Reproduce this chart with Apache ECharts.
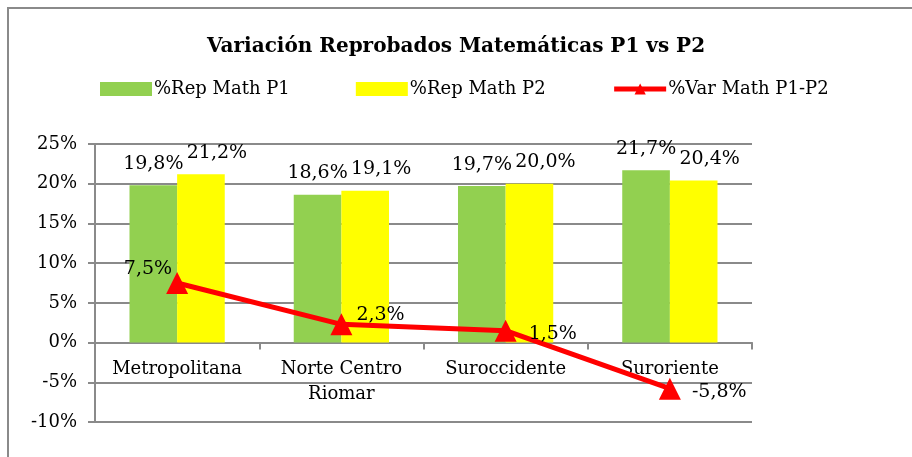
<!DOCTYPE html>
<html><head><meta charset="utf-8">
<script src="https://cdn.jsdelivr.net/npm/echarts@6/dist/echarts.min.js"></script>
<style>html,body{margin:0;padding:0;background:#fff}#c{width:912px;height:457px}</style>
</head><body><div id="c"></div>
<script>
const categories = ['Metropolitana', 'Norte Centro\nRiomar', 'Suroccidente', 'Suroriente'];
const repP1 = [19.8, 18.6, 19.7, 21.7];
const repP2 = [21.2, 19.1, 20.0, 20.4];
const varP1P2 = [7.5, 2.3, 1.5, -5.8];
const yTicks = [-10, -5, 0, 5, 10, 15, 20, 25];
const seriesNames = ['%Rep Math P1', '%Rep Math P2', '%Var Math P1-P2'];
const titleText = 'Variación Reprobados Matemáticas P1 vs P2';

const fmt = v => v.toFixed(1).replace('.', ',') + '%';
const FONT = 'DejaVu Serif';
const chart = echarts.init(document.getElementById('c'), null, {renderer: 'canvas'});
const lineLabel = [
  {position: 'left', distance: 4, offset: [10, -14]},
  {position: 'right', distance: 4, offset: [0, -9]},
  {position: 'right', distance: 12, offset: [0, 3]},
  {position: 'right', distance: 11, offset: [0, 3]}
];
const gridTop = 144, gridBottom = 35, H = 457;
const plotH = H - gridTop - gridBottom;
const zeroOffset = -plotH * (0 - yTicks[0]) / (yTicks[yTicks.length - 1] - yTicks[0]);
chart.setOption({
  animation: false,
  textStyle: {fontFamily: FONT, color: '#000'},
  graphic: [{type: 'rect', shape: {x: 8, y: 8, width: 920, height: 460}, style: {fill: 'none', stroke: '#8a8a8a', lineWidth: 2}}],
  title: {text: titleText, left: 'center', top: 32, textStyle: {fontFamily: FONT, fontWeight: 'bold', fontSize: 20, color: '#000'}},
  legend: {
    top: 75, left: 95, itemGap: 66, itemWidth: 52, itemHeight: 14,
    textStyle: {fontFamily: FONT, fontSize: 18, color: '#000', padding: [0, 0, 0, -3]},
    data: [{name: seriesNames[0], icon: 'rect'}, {name: seriesNames[1], icon: 'rect'},
           {name: seriesNames[2], lineStyle: {width: 5}}]
  },
  grid: {left: 95, right: 160, top: gridTop, bottom: gridBottom, outerBoundsMode: 'none', containLabel: false},
  xAxis: {
    type: 'category', data: categories, position: 'bottom', offset: zeroOffset,
    axisLine: {onZero: false, lineStyle: {color: '#8a8a8a', width: 2}},
    axisTick: {show: true, length: 7, lineStyle: {color: '#8a8a8a', width: 2}},
    axisLabel: {fontFamily: FONT, fontSize: 18, color: '#000', margin: 14, lineHeight: 25, interval: 0}
  },
  yAxis: {
    type: 'value', min: yTicks[0], max: yTicks[yTicks.length - 1], interval: 5,
    axisLine: {show: true, lineStyle: {color: '#8a8a8a', width: 2}},
    axisTick: {show: true, length: 7, lineStyle: {color: '#8a8a8a', width: 2}},
    splitLine: {lineStyle: {color: '#8a8a8a', width: 2}},
    axisLabel: {fontFamily: FONT, fontSize: 18, color: '#000', margin: 18, formatter: v => yTicks.includes(v) ? v + '%' : ''}
  },
  series: [
    {name: seriesNames[0], type: 'bar', data: repP1, barGap: '0%', barCategoryGap: '42%',
      itemStyle: {color: '#92d050'},
      label: {show: true, position: 'top', distance: 12, fontFamily: FONT, fontSize: 19, color: '#000', formatter: p => fmt(p.value)}},
    {name: seriesNames[1], type: 'bar', data: repP2,
      itemStyle: {color: '#ffff00'},
      label: {show: true, position: 'top', distance: 12, offset: [16, 0], fontFamily: FONT, fontSize: 19, color: '#000', formatter: p => fmt(p.value)}},
    {name: seriesNames[2], type: 'line', data: varP1P2.map((v, i) => ({value: v, label: lineLabel[i]})),
      symbol: 'triangle', symbolSize: 22, z: 5,
      lineStyle: {color: '#ff0000', width: 5}, itemStyle: {color: '#ff0000'},
      label: {show: true, fontFamily: FONT, fontSize: 19, color: '#000', formatter: p => fmt(p.value)}}
  ]
});
</script></body></html>
